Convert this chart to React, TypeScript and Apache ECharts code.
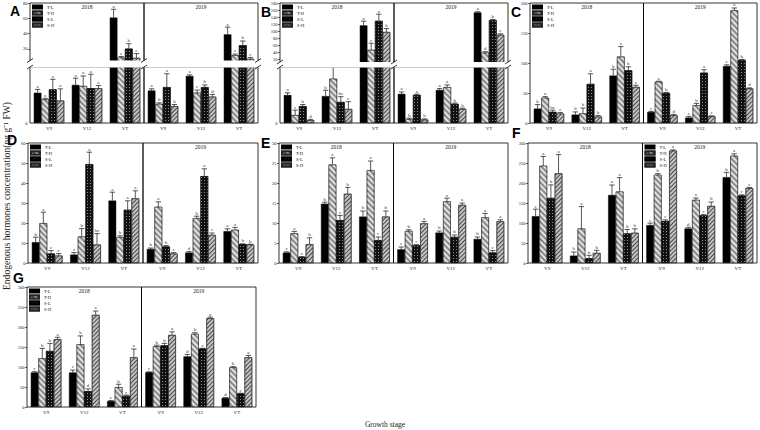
import React, { useEffect, useRef } from "react";
import * as echarts from "echarts";

const SERIES_NAMES = ["T-L", "T-H", "S-L", "S-H"];
const STAGES = ["V9", "V12", "VT"];
const YEARS = ["2018", "2019"];
const Y_TITLE = "Endogenous hormones concentration(ng g\u207B\u00B9 FW)";
const X_TITLE = "Growth stage";

// rows: T-L, T-H, S-L, S-H ; columns: V9, V12, VT
const A18_VAL = [[2.7, 3.4, 61], [2.1, 3.3, 8.7], [3.0, 3.1, 20.4], [2.0, 3.1, 8.3]];
const A18_ERR = [[0.3, 0.6, 10.8], [0.1, 0.9, 1.5], [0.9, 1.25, 6.5], [1.05, 0.25, 5.7]];
const A18_SIG = [["a", "a", "a"], ["a", "a", "c"], ["a", "a", "b"], ["a", "a", "c"]];
const A19_VAL = [[2.9, 4.2, 39], [1.7, 2.7, 11.7], [3.2, 3.2, 24.8], [1.5, 2.35, 7]];
const A19_ERR = [[0.15, 0.1, 9.5], [0.1, 0.24, 1.7], [1.2, 0.2, 5.6], [0.15, 0.2, 1.8]];
const A19_SIG = [["a", "a", "a"], ["b", "c", "c"], ["a", "b", "b"], ["b", "d", "c"]];

const B18_VAL = [[10, 9.6, 116], [2.8, 15.8, 46], [6, 7.5, 129], [1, 5, 97]];
const B18_ERR = [[0.8, 2.1, 12], [1.8, 4.4, 19], [0.6, 1.9, 19], [0.3, 2.6, 10]];
const B18_SIG = [["a", "b", "a"], ["c", "a", "c"], ["b", "bc", "a"], ["d", "c", "b"]];
const B19_VAL = [[10.4, 11.8, 153], [1.4, 12.8, 38], [10, 6.8, 131], [1.2, 5, 89]];
const B19_ERR = [[0.7, 0.5, 2], [0.3, 0.8, 3], [0.3, 0.3, 2], [0.3, 0.3, 3]];
const B19_SIG = [["a", "a", "a"], ["b", "a", "d"], ["a", "b", "b"], ["b", "b", "c"]];

const C18_VAL = [[24, 14, 79], [42, 16, 110.6], [18.4, 65, 87.7], [15.6, 10.6, 60]];
const C18_ERR = [[6.7, 4.5, 10.6], [2, 9, 16.8], [3, 17, 6], [2, 2, 3]];
const C18_SIG = [["b", "b", "b"], ["a", "b", "a"], ["bc", "a", "b"], ["c", "b", "c"]];
const C19_VAL = [[18.4, 9, 95], [68.7, 29.6, 187.7], [50, 83.8, 105], [12.8, 11, 57.5]];
const C19_ERR = [[1, 2, 2], [1, 3, 4], [1, 5, 1], [1.5, 1, 1]];
const C19_SIG = [["c", "c", "c"], ["a", "b", "a"], ["b", "a", "b"], ["d", "c", "d"]];

const D18_VAL = [[10.4, 4.2, 31.2], [19.9, 13.2, 12.9], [4.7, 49.4, 26.6], [3.7, 9.2, 32.3]];
const D18_ERR = [[2.5, 1, 4.2], [5.5, 4, 0.7], [1.5, 6, 4.5], [1, 5.5, 3.8]];
const D18_SIG = [["b", "c", "a"], ["a", "b", "b"], ["c", "a", "a"], ["c", "bc", "a"]];
const D19_VAL = [[7, 5.2, 15.9], [28.1, 22.4, 16.6], [8.2, 43.4, 9.4], [4.7, 14, 9.2]];
const D19_ERR = [[0.5, 0.5, 1.2], [2.5, 1, 1.2], [0.5, 3.7, 0.2], [0.5, 1, 0.2]];
const D19_SIG = [["b", "d", "a"], ["a", "b", "a"], ["b", "a", "b"], ["c", "c", "b"]];

const E18_VAL = [[2.6, 14.8, 11.6], [7.4, 24.6, 23.2], [1.5, 10.7, 5.7], [4.7, 17.3, 11.6]];
const E18_ERR = [[0.2, 0.4, 1.4], [0.5, 1.7, 2.3], [0.1, 1.2, 0.8], [1.6, 1.6, 1.4]];
const E18_SIG = [["c", "b", "b"], ["a", "a", "a"], ["c", "c", "c"], ["b", "b", "b"]];
const E19_VAL = [[3.4, 7.6, 6], [8, 15.4, 11.4], [4.4, 6.5, 2.6], [9.9, 14.5, 10.4]];
const E19_ERR = [[0.6, 0.4, 0.5], [0.3, 0.8, 1], [0.2, 0.5, 0.5], [0.5, 0.5, 0.4]];
const E19_SIG = [["c", "b", "b"], ["b", "a", "a"], ["c", "b", "c"], ["a", "a", "a"]];

const F18_VAL = [[117, 18.4, 170], [243, 86, 178.5], [162.6, 11.7, 73.8], [224, 25, 75.4]];
const F18_ERR = [[17.6, 9, 25], [23.5, 55, 35], [32.7, 7.5, 10], [47, 6.7, 10]];
const F18_SIG = [["c", "b", "a"], ["a", "a", "a"], ["b", "b", "b"], ["a", "b", "b"]];
const F19_VAL = [[94.7, 86.3, 214.6], [220.4, 157.6, 268], [104.8, 119, 168.5], [280.8, 142.5, 187]];
const F19_ERR = [[5, 3, 12], [3, 5, 5], [3, 2, 2], [2, 10, 2]];
const F19_SIG = [["c", "d", "b"], ["b", "a", "a"], ["c", "c", "c"], ["a", "b", "c"]];

const G18_VAL = [[86.3, 86.3, 15], [121.5, 156.7, 49.4], [140, 39.4, 27.7], [169.3, 230, 124]];
const G18_ERR = [[2, 6, 1], [25, 21, 7.5], [19, 6, 2], [5, 10, 21]];
const G18_SIG = [["c", "c", "c"], ["b", "b", "b"], ["b", "d", "c"], ["a", "a", "a"]];
const G19_VAL = [[87, 126.5, 22.6], [151.6, 182.6, 99], [154, 145.8, 33.5], [180, 221.7, 124]];
const G19_ERR = [[1, 5, 1], [3, 3, 2], [5, 1, 1], [8, 3, 5]];
const G19_SIG = [["c", "d", "d"], ["b", "b", "b"], ["b", "c", "c"], ["a", "a", "a"]];

const FONT = "'Liberation Serif', 'Times New Roman', serif";

type YearData = [number[][], number[][], string[][]];
type PanelDef = {
  id: string;
  left: number;
  right: number;
  top: number;
  bottom: number;
  max: number;
  interval: number;
  lowerMax?: number;
  upperZero?: number;
  lowerTop?: number;
  gap?: [number, number];
  legendHalf: number;
  showYear: [boolean, boolean];
  letter: [number, number];
  data: [YearData, YearData];
};

const PANELS: PanelDef[] = [
  { id: "A", left: 30, right: 258, top: 3, bottom: 123, max: 80, interval: 20, lowerMax: 5, upperZero: 64.3, lowerTop: 67, gap: [60.5, 67.5], legendHalf: 0, showYear: [true, true], letter: [10, 4.5], data: [[A18_VAL, A18_ERR, A18_SIG], [A19_VAL, A19_ERR, A19_SIG]] },
  { id: "B", left: 280, right: 508, top: 3, bottom: 123, max: 180, interval: 20, lowerMax: 20, upperZero: 66, lowerTop: 67, gap: [62, 67.5], legendHalf: 0, showYear: [true, true], letter: [261, 5.5], data: [[B18_VAL, B18_ERR, B18_SIG], [B19_VAL, B19_ERR, B19_SIG]] },
  { id: "C", left: 530, right: 757, top: 3, bottom: 123, max: 200, interval: 50, legendHalf: 0, showYear: [true, true], letter: [511, 5.5], data: [[C18_VAL, C18_ERR, C18_SIG], [C19_VAL, C19_ERR, C19_SIG]] },
  { id: "D", left: 28, right: 258, top: 143, bottom: 263, max: 60, interval: 10, legendHalf: 0, showYear: [false, true], letter: [7, 134], data: [[D18_VAL, D18_ERR, D18_SIG], [D19_VAL, D19_ERR, D19_SIG]] },
  { id: "E", left: 279, right: 508, top: 143, bottom: 263, max: 30, interval: 5, legendHalf: 0, showYear: [true, true], letter: [261, 136.5], data: [[E18_VAL, E18_ERR, E18_SIG], [E19_VAL, E19_ERR, E19_SIG]] },
  { id: "F", left: 528, right: 757, top: 143, bottom: 263, max: 300, interval: 50, legendHalf: 1, showYear: [true, true], letter: [512, 127], data: [[F18_VAL, F18_ERR, F18_SIG], [F19_VAL, F19_ERR, F19_SIG]] },
  { id: "G", left: 27, right: 256, top: 287, bottom: 407, max: 300, interval: 50, legendHalf: 0, showYear: [true, true], letter: [13, 272], data: [[G18_VAL, G18_ERR, G18_SIG], [G19_VAL, G19_ERR, G19_SIG]] },
];

const BAR_STYLES: any[] = [
  { color: "#000", borderColor: "#000", borderWidth: 0.5 },
  {
    color: "#8a8a8a", borderColor: "#222", borderWidth: 0.5,
    decal: { symbol: "rect", symbolSize: 1, dashArrayX: [1, 0], dashArrayY: [1.2, 1.6], rotation: Math.PI / 4, color: "#e2e2e2" },
  },
  {
    color: "#111", borderColor: "#000", borderWidth: 0.5,
    decal: { symbol: "rect", symbolSize: 0.9, dashArrayX: [1, 1.5], dashArrayY: [1, 1.5], color: "#9a9a9a" },
  },
  {
    color: "#c4c4c4", borderColor: "#222", borderWidth: 0.5,
    decal: { symbol: "rect", symbolSize: 1, dashArrayX: [1, 0], dashArrayY: [1, 1.5], rotation: -Math.PI / 4, color: "#4a4a4a" },
  },
];

function buildOption() {
  const grid: any[] = [];
  const xAxis: any[] = [];
  const yAxis: any[] = [];
  const series: any[] = [];
  const legend: any[] = [];
  const graphic: any[] = [];

  const addGrid = (left: number, top: number, width: number, height: number, xShow: boolean, y: any) => {
    grid.push({
      left, top, width, height, show: true, borderColor: "#000", borderWidth: 0.8,
      backgroundColor: "transparent", containLabel: false, outerBoundsMode: "none",
    });
    const gi = grid.length - 1;
    xAxis.push({
      type: "category", gridIndex: gi, data: STAGES, show: xShow,
      axisLine: { show: false }, axisTick: { show: false }, splitLine: { show: false },
      axisLabel: { interval: 0, fontSize: 5, margin: 3, color: "#222", fontFamily: FONT },
    });
    yAxis.push({
      type: "value", gridIndex: gi, min: 0, max: y.max, interval: y.interval, show: y.show,
      axisLine: { show: false }, splitLine: { show: false },
      axisTick: { show: !y.noTick, length: 2, lineStyle: { color: "#000", width: 0.6 } },
      axisLabel: { fontSize: 4.5, margin: 2.5, color: "#222", fontFamily: FONT, showMaxLabel: true, showMinLabel: true, formatter: y.fmt },
    });
    return gi;
  };

  const addBars = (gi: number, vals: number[][], errs: number[][], sigs: string[][], barStages: number[], errStages: number[]) => {
    for (let s = 0; s < 4; s++) {
      series.push({
        type: "bar", name: SERIES_NAMES[s], xAxisIndex: gi, yAxisIndex: gi, silent: true,
        barGap: "0%", barCategoryGap: "20%", clip: true,
        data: vals[s].map((v, k) => (barStages.includes(k) ? v : "-")),
        itemStyle: BAR_STYLES[s],
      });
    }
    const items: any[] = [];
    for (let s = 0; s < 4; s++) {
      for (const k of errStages) items.push({ s, k, v: vals[s][k], e: errs[s][k], l: sigs[s][k] });
    }
    series.push({
      type: "custom", xAxisIndex: gi, yAxisIndex: gi, silent: true, z: 4, clip: false,
      data: items.map((it) => [it.k, it.v + it.e]),
      renderItem: (params: any, api: any) => {
        const it = items[params.dataIndex];
        const band = api.size([1, 0])[0];
        const barW = (band * 0.8) / 4;
        const c = api.coord([it.k, it.v]);
        const ce = api.coord([it.k, it.v + it.e]);
        const x = c[0] - band * 0.4 + (it.s + 0.5) * barW;
        const cap = barW * 0.35;
        const children: any[] = [];
        if (ce[1] < c[1] - 0.3) {
          children.push({ type: "line", shape: { x1: x, y1: c[1], x2: x, y2: ce[1] }, style: { stroke: "#111", lineWidth: 0.7 } });
          children.push({ type: "line", shape: { x1: x - cap, y1: ce[1], x2: x + cap, y2: ce[1] }, style: { stroke: "#111", lineWidth: 0.7 } });
        }
        children.push({
          type: "text", x, y: ce[1] - 0.6,
          style: { text: it.l, font: `5px ${FONT}`, fill: "#333", align: "center", verticalAlign: "bottom", textAlign: "center", textVerticalAlign: "bottom" },
        });
        return { type: "group", children };
      },
    });
  };

  PANELS.forEach((p) => {
    const w = (p.right - p.left) / 2;
    for (let yi = 0; yi < 2; yi++) {
      const gl = p.left + yi * w;
      const [vals, errs, sigs] = p.data[yi];
      const showY = yi === 0;
      if (p.lowerMax) {
        const ui = addGrid(gl, p.top, w, (p.upperZero as number) - p.top, false, {
          max: p.max, interval: p.interval, show: showY, fmt: (v: number) => (v === 0 ? "" : String(v)),
        });
        addBars(ui, vals, errs, sigs, [2], [2]);
        const li = addGrid(gl, p.lowerTop as number, w, p.bottom - (p.lowerTop as number), true, {
          max: p.lowerMax, interval: p.lowerMax, show: showY, noTick: true, fmt: (v: number) => (v === 0 ? "0" : ""),
        });
        addBars(li, vals, errs, sigs, [0, 1, 2], [0, 1]);
      } else {
        const gi = addGrid(gl, p.top, w, p.bottom - p.top, true, { max: p.max, interval: p.interval, show: showY });
        addBars(gi, vals, errs, sigs, [0, 1, 2], [0, 1, 2]);
      }
      if (p.showYear[yi]) {
        graphic.push({
          type: "text", x: gl + w / 2, y: p.top + 3.5, z: 100, silent: true,
          style: { text: YEARS[yi], font: `5.5px ${FONT}`, fill: "#222", align: "center", verticalAlign: "middle", textAlign: "center", textVerticalAlign: "middle" },
        });
      }
    }
    legend.push({
      show: true, data: SERIES_NAMES, orient: "vertical", left: p.left + p.legendHalf * w + 2, top: p.top + 1.5,
      itemWidth: 9, itemHeight: 3, itemGap: 1, icon: "rect", padding: 0, selectedMode: false,
      textStyle: { fontSize: 4.5, lineHeight: 4, color: "#111", fontFamily: FONT },
    });
    if (p.gap) {
      const [g0, g1] = p.gap;
      graphic.push({
        type: "rect", z: 100, silent: true,
        shape: { x: p.left - 5, y: g0, width: p.right - p.left + 10, height: g1 - g0 },
        style: { fill: "#fff" },
      });
      for (const x of [p.left, p.left + w, p.right]) {
        for (const y of [g0, g1 - 0.5]) {
          graphic.push({
            type: "line", z: 101, silent: true,
            shape: { x1: x - 3, y1: y + 2, x2: x + 3, y2: y - 2 },
            style: { stroke: "#000", lineWidth: 0.8 },
          });
        }
      }
    }
    graphic.push({
      type: "text", x: p.letter[0], y: p.letter[1], z: 100, silent: true,
      style: { text: p.id, font: "bold 14px 'Liberation Sans', Arial, sans-serif", lineHeight: 12, fill: "#000", align: "left", verticalAlign: "top", textAlign: "left", textVerticalAlign: "top" },
    });
  });

  graphic.push({
    type: "text", x: 6.5, y: 196, rotation: Math.PI / 2, z: 100, silent: true,
    style: { text: Y_TITLE, font: `9.6px ${FONT}`, lineHeight: 10, fill: "#222", align: "center", verticalAlign: "middle", textAlign: "center", textVerticalAlign: "middle" },
  });
  graphic.push({
    type: "text", x: 385, y: 424, z: 100, silent: true,
    style: { text: X_TITLE, font: `7.5px ${FONT}`, fill: "#222", align: "center", verticalAlign: "middle", textAlign: "center", textVerticalAlign: "middle" },
  });

  return {
    animation: false,
    backgroundColor: "#fff",
    textStyle: { fontFamily: FONT },
    grid, xAxis, yAxis, series, legend, graphic,
  };
}

export default function App() {
  const ref = useRef<HTMLDivElement>(null);
  useEffect(() => {
    if (!ref.current) return;
    const chart = echarts.init(ref.current, undefined, { renderer: "svg" });
    chart.setOption(buildOption() as any);
    return () => chart.dispose();
  }, []);
  return <div ref={ref} style={{ position: "fixed", left: 0, top: 0, width: 760, height: 430 }} />;
}
